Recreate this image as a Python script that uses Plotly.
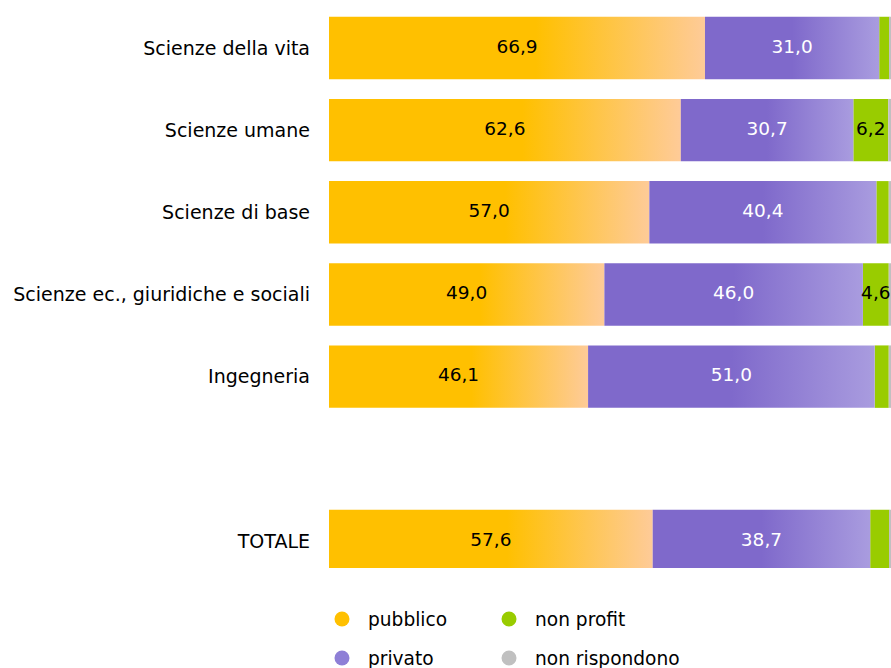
import plotly.graph_objects as go

# Data (percentages)
categories = ['Scienze della vita', 'Scienze umane', 'Scienze di base',
              'Scienze ec., giuridiche e sociali', 'Ingegneria', 'TOTALE']
ypos = [6, 5, 4, 3, 2, 0]
pubblico = [66.9, 62.6, 57.0, 49.0, 46.1, 57.6]
privato = [31.0, 30.7, 40.4, 46.0, 51.0, 38.7]
non_profit = [1.8, 6.2, 2.2, 4.6, 2.5, 3.4]
non_rispondono = [0.3, 0.5, 0.4, 0.4, 0.4, 0.3]

legend_names = ['pubblico', 'privato', 'non profit', 'non rispondono']
legend_colors = ['#FFC000', '#8E7FD6', '#99CC00', '#C0C0C0']

FONT = 'DejaVu Sans'
H = 0.38  # half bar thickness
yellow_scale = [[0, '#FFC000'], [0.55, '#FFC000'], [1, '#FECB98']]
purple_scale = [[0, '#7F69CB'], [0.5, '#7F69CB'], [1, '#A99CDF']]


def fmt(v):
    return f'{v:.1f}'.replace('.', ',')


fig = go.Figure()

# gradient segments as filled polygons, one trace each
for i, y in enumerate(ypos):
    segs = [(0, pubblico[i], yellow_scale),
            (pubblico[i], pubblico[i] + privato[i], purple_scale)]
    for x0, x1, scale in segs:
        fig.add_trace(go.Scatter(
            x=[x0, x1, x1, x0, x0], y=[y - H, y - H, y + H, y + H, y - H],
            mode='lines', line=dict(width=0), fill='toself',
            fillgradient=dict(type='horizontal', colorscale=scale),
            hoverinfo='skip', showlegend=False))

base_np = [p + q for p, q in zip(pubblico, privato)]
base_nr = [b + n for b, n in zip(base_np, non_profit)]
fig.add_trace(go.Bar(y=ypos, x=non_profit, base=base_np, orientation='h', width=2 * H,
                     marker=dict(color='#99CC00', line_width=0), showlegend=False))
fig.add_trace(go.Bar(y=ypos, x=non_rispondono, base=base_nr, orientation='h', width=2 * H,
                     marker=dict(color='#C0C0C0', line_width=0), showlegend=False))

# value labels
fig.add_trace(go.Scatter(x=[p / 2 for p in pubblico], y=ypos, mode='text',
                         text=[fmt(v) for v in pubblico],
                         textfont=dict(family=FONT, size=18.5, color='black'),
                         hoverinfo='skip', showlegend=False))
fig.add_trace(go.Scatter(x=[p + q / 2 for p, q in zip(pubblico, privato)], y=ypos, mode='text',
                         text=[fmt(v) for v in privato],
                         textfont=dict(family=FONT, size=18.5, color='white'),
                         hoverinfo='skip', showlegend=False))
np_x = [b + n / 2 for b, n, in zip(base_np, non_profit) if n >= 4]
np_y = [y for y, n in zip(ypos, non_profit) if n >= 4]
np_t = [fmt(n) for n in non_profit if n >= 4]
fig.add_trace(go.Scatter(x=np_x, y=np_y, mode='text', text=np_t, cliponaxis=False,
                         textfont=dict(family=FONT, size=18.5, color='black'),
                         hoverinfo='skip', showlegend=False))

# legend drawn by hand (2 x 2 grid), so it can sit at the very bottom edge
leg_x = [0.0231, 0.0231, 0.3203, 0.3203]
leg_y = [-0.0898, -0.1585, -0.0898, -0.1585]
for name, color, lx, ly in zip(legend_names, legend_colors, leg_x, leg_y):
    fig.add_shape(type='circle', xref='paper', yref='paper',
                  xsizemode='pixel', ysizemode='pixel', xanchor=lx, yanchor=ly,
                  x0=-7.5, x1=7.5, y0=-7.5, y1=7.5,
                  fillcolor=color, line_width=0, layer='above')
    fig.add_annotation(text=name, xref='paper', yref='paper', x=lx + 0.0427, y=ly,
                       xanchor='left', yanchor='middle', showarrow=False,
                       font=dict(family=FONT, size=18.6, color='black'))

fig.update_layout(
    width=891, height=668,
    margin=dict(l=329, r=0, t=0, b=100),
    plot_bgcolor='white', paper_bgcolor='white',
    barmode='overlay',
    showlegend=False,
)
fig.update_xaxes(range=[0, 100], visible=False, fixedrange=True)
fig.update_yaxes(range=[-0.329, 6.584], tickvals=ypos, ticktext=categories,
                 showgrid=False, zeroline=False, showline=False, fixedrange=True,
                 ticklabelstandoff=18,
                 tickfont=dict(family=FONT, size=19, color='black'))

# drop the default page margin so the figure fills the window
fig.write_html('out.html', config={'displayModeBar': False},
               post_script="document.body.style.margin='0';")
